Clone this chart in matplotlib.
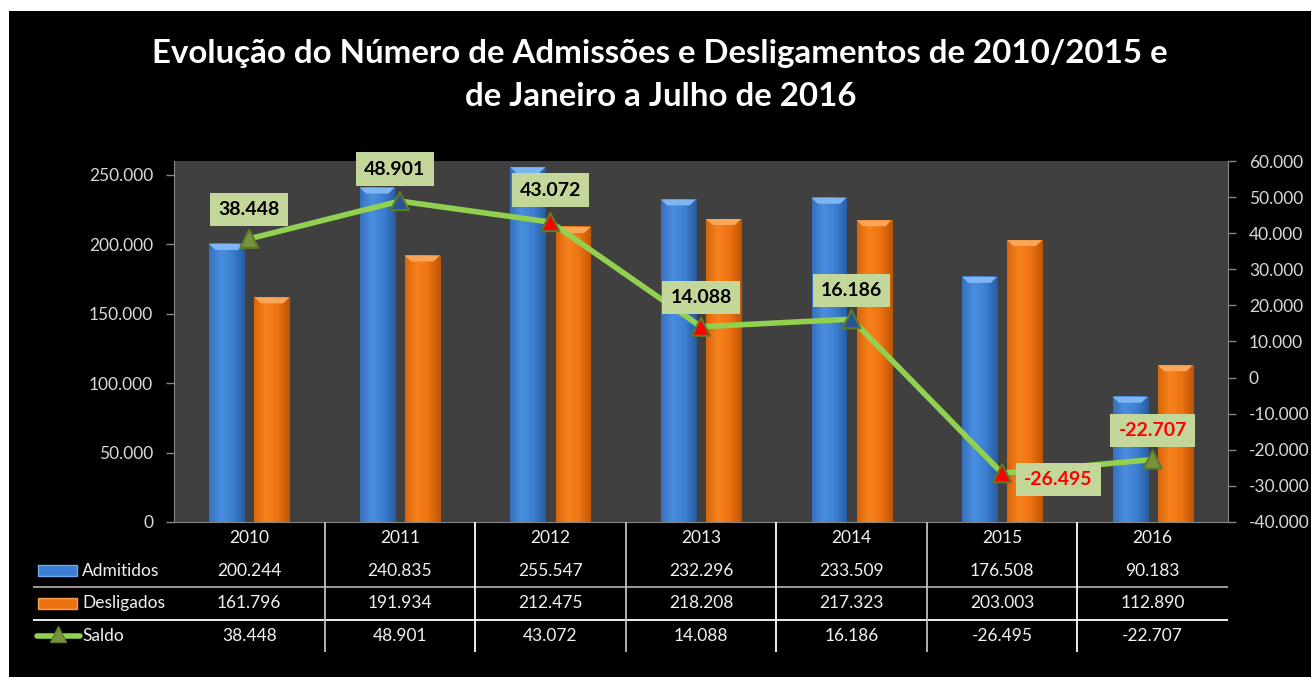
import numpy as np
import matplotlib
matplotlib.use("Agg")
import matplotlib.pyplot as plt
from matplotlib.patches import Rectangle, Polygon
from matplotlib.colors import LinearSegmentedColormap
from matplotlib.ticker import FuncFormatter, MultipleLocator

# dados
anos = ['2010', '2011', '2012', '2013', '2014', '2015', '2016']
admitidos = [200244, 240835, 255547, 232296, 233509, 176508, 90183]
desligados = [161796, 191934, 212475, 218208, 217323, 203003, 112890]
saldo = [38448, 48901, 43072, 14088, 16186, -26495, -22707]
cores_marcador = ['#77933c', '#2a5590', '#ff0000', '#ff0000', '#2a5590', '#ff0000', '#77933c']

titulo1 = 'Evolução do Número de Admissões e Desligamentos de 2010/2015 e'
titulo2 = 'de Janeiro a Julho de 2016'

plt.rcParams['font.family'] = ['Lato', 'DejaVu Sans']


def br(v):
    return f"{v:,.0f}".replace(",", ".")


def pinta_barras(ax, barras, cores, cor_topo, topo):
    cmap = LinearSegmentedColormap.from_list('g', cores)
    grad = np.linspace(0, 1, 64).reshape(1, -1)
    for p in barras:
        x0, y0, w, h = p.get_x(), p.get_y(), p.get_width(), p.get_height()
        ax.imshow(grad, extent=[x0, x0 + w, y0, y0 + h], aspect='auto',
                  cmap=cmap, zorder=2, interpolation='bilinear')
        y1 = y0 + h
        d = w * 0.18
        ax.add_patch(Polygon([(x0, y1), (x0 + w, y1), (x0 + w - d, y1 - topo),
                              (x0 + d, y1 - topo)], closed=True,
                             facecolor=cor_topo, edgecolor='none', zorder=3))


W, H = 1311, 677
L, R, B, T = 174, 1228, 522, 161
n = len(anos)
cw = (R - L) / n

fig = plt.figure(figsize=(W / 100, H / 100), dpi=100, facecolor='white')
fig.patches.append(Rectangle((9 / W, 0), 1, (H - 11) / H, transform=fig.transFigure,
                             facecolor='black', edgecolor='none', zorder=-5))

ax = fig.add_axes([L / W, 1 - B / H, (R - L) / W, (B - T) / H])
ax.set_facecolor('#404040')
x = np.arange(n)
bw, off = 0.232, 0.15
b1 = ax.bar(x - off, admitidos, bw, color='#3b7dd0', edgecolor='#2a5a9a', lw=0.8, zorder=1)
b2 = ax.bar(x + off, desligados, bw, color='#ed7212', edgecolor='#b85808', lw=0.8, zorder=1)
pinta_barras(ax, b1, ['#3670bd', '#4a8ee0', '#3d80d2', '#2a5fa6'], '#7db6f2', 4300)
pinta_barras(ax, b2, ['#d9650b', '#f6821c', '#ef7413', '#c35706'], '#fba558', 4300)

ax.set_xlim(-0.5, n - 0.5)
ax.set_ylim(0, 260000)
ax.yaxis.set_major_locator(MultipleLocator(50000))
ax.yaxis.set_major_formatter(FuncFormatter(lambda v, p: br(v)))
ax.set_xticks([])
ax.tick_params(axis='y', colors='#868686', labelcolor='#d9d9d9', labelsize=12.5,
               length=6, width=1, pad=9, direction='out')
for s in ['top', 'right']:
    ax.spines[s].set_visible(False)
for s in ['left', 'bottom']:
    ax.spines[s].set_color('#868686')

ax2 = ax.twinx()
ax2.set_ylim(-40000, 60000)
ax2.yaxis.set_major_locator(MultipleLocator(10000))
ax2.yaxis.set_major_formatter(FuncFormatter(lambda v, p: br(v)))
ax2.tick_params(axis='y', colors='#868686', labelcolor='#d9d9d9', labelsize=12.5,
                length=6, width=1, pad=9, direction='out')
for s in ['top', 'left', 'bottom']:
    ax2.spines[s].set_visible(False)
ax2.spines['right'].set_color('#868686')

ax2.plot(x, saldo, color='#92d050', lw=4, zorder=3, solid_capstyle='round')
ax2.scatter(x, saldo, marker='^', s=170, c=cores_marcador, edgecolors='#5f7a2a',
            linewidths=1.5, zorder=4)

desloc = [(0, 29), (-5, 32), (0, 32), (0, 29), (0, 29), (56, -6), (0, 29)]
for xi, v, d in zip(x, saldo, desloc):
    ax2.annotate(br(v), (xi, v), xytext=d, textcoords='offset pixels',
                 ha='center', va='center', fontsize=14, fontweight='bold',
                 color='black' if v >= 0 else '#ff0000', zorder=5,
                 bbox=dict(boxstyle='square,pad=0.42', fc='#c4d79b', ec='none'))

# tabela de dados
tab = fig.add_axes([33 / W, 1 - 652 / H, (R - 33) / W, (652 - 522) / H])
tab.set_xlim(-0.5 - (L - 33) / cw, n - 0.5)
tab.set_ylim(4, 0)
tab.axis('off')


def px(p):
    return -0.5 + (p - L) / cw


tab.plot([px(33), n - 0.5], [2, 2], color='#a6a6a6', lw=1.3)
tab.plot([px(33), n - 0.5], [3, 3], color='#ffffff', lw=1.3)
for i in range(1, n):
    tab.plot([i - 0.5, i - 0.5], [0, 4], color='#bfbfbf' if i % 2 else '#ffffff', lw=1.3)

for i, a in enumerate(anos):
    tab.text(i, 0.5, a, ha='center', va='center', fontsize=12.5, color='#f2f2f2')
    tab.text(i, 1.5, br(admitidos[i]), ha='center', va='center', fontsize=12.5, color='#f2f2f2')
    tab.text(i, 2.5, br(desligados[i]), ha='center', va='center', fontsize=12.5, color='#f2f2f2')
    tab.text(i, 3.5, br(saldo[i]), ha='center', va='center', fontsize=12.5, color='#f2f2f2')

tab.add_patch(Rectangle((px(38), 1.33), px(77) - px(38), 0.34, facecolor='#3b7dd0',
                        edgecolor='#6fa8ec', lw=1))
tab.add_patch(Rectangle((px(38), 2.33), px(77) - px(38), 0.34, facecolor='#ed7212',
                        edgecolor='#f9a050', lw=1))
tab.plot([px(37), px(80)], [3.5, 3.5], color='#92d050', lw=4, solid_capstyle='round')
tab.plot([px(58)], [3.45], marker='^', ms=12, color='#77933c', mec='#5f7a2a', mew=1)
tab.text(px(82), 1.5, 'Admitidos', ha='left', va='center', fontsize=12.5, color='#f2f2f2')
tab.text(px(82), 2.5, 'Desligados', ha='left', va='center', fontsize=12.5, color='#f2f2f2')
tab.text(px(82), 3.5, 'Saldo', ha='left', va='center', fontsize=12.5, color='#f2f2f2')

fig.text(660 / W, 1 - 53 / H, titulo1, ha='center', va='center', fontsize=23.8,
         fontweight='bold', color='white')
fig.text(661 / W, 1 - 96 / H, titulo2, ha='center', va='center', fontsize=23.8,
         fontweight='bold', color='white')

fig.savefig('out.png', dpi=100, facecolor=fig.get_facecolor())
